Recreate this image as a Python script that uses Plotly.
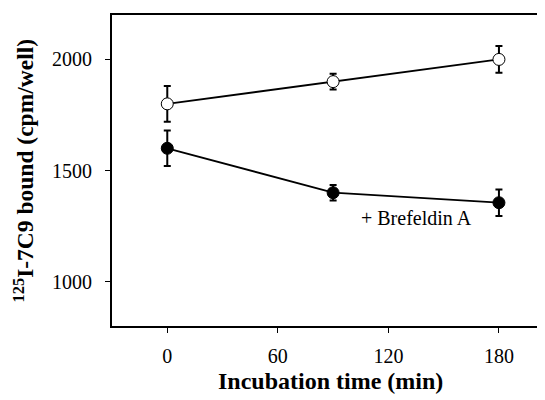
import plotly.graph_objects as go

time_min = [0, 90, 180]
control_vals = [1800, 1900, 2000]
control_err = [80, 35, 60]
bfa_vals = [1600, 1400, 1355]
bfa_err = [80, 35, 60]
x_ticks = [0, 60, 120, 180]
y_ticks = [1000, 1500, 2000]

FONT = "Liberation Serif, Times New Roman, serif"

fig = go.Figure()
fig.add_trace(go.Scatter(
    x=time_min, y=control_vals, mode="lines+markers",
    line=dict(color="black", width=1.8),
    marker=dict(symbol="circle", size=12, color="white", line=dict(color="black", width=1)),
    error_y=dict(type="data", array=control_err, color="black", thickness=2, width=3.5),
    showlegend=False))
fig.add_trace(go.Scatter(
    x=time_min, y=bfa_vals, mode="lines+markers",
    line=dict(color="black", width=1.8),
    marker=dict(symbol="circle", size=12, color="black", line=dict(color="black", width=1)),
    error_y=dict(type="data", array=bfa_err, color="black", thickness=2, width=3.5),
    showlegend=False))

fig.add_annotation(x=104, y=1288, xref="x", yref="y", text="+ Brefeldin A",
                   showarrow=False, xanchor="left", yanchor="middle",
                   font=dict(family=FONT, size=20, color="black"))
fig.add_annotation(x=-0.2055, y=0.5, xref="paper", yref="paper",
                   text="<sup>125</sup>I-7C9 bound (cpm/well)", textangle=-90,
                   showarrow=False, xanchor="center", yanchor="middle",
                   font=dict(family=FONT, size=23.5, color="black", weight="bold"))
fig.add_annotation(x=0.505, y=-0.177, xref="paper", yref="paper",
                   text="Incubation time (min)",
                   showarrow=False, xanchor="center", yanchor="middle",
                   font=dict(family=FONT, size=24, color="black", weight="bold"))

fig.update_layout(
    width=537, height=392,
    margin=dict(l=104, r=0, t=7, b=74),
    paper_bgcolor="white", plot_bgcolor="white",
    font=dict(family=FONT, size=20, color="black"),
    xaxis=dict(range=[-30, 205], tickvals=x_ticks, ticks="outside", ticklen=5,
               tickwidth=1, tickcolor="black", showline=True, linecolor="black",
               linewidth=2, mirror=True, showgrid=False, zeroline=False,
               ticklabelstandoff=6),
    yaxis=dict(range=[800, 2200], tickvals=y_ticks, ticks="outside", ticklen=5,
               tickwidth=1, tickcolor="black", showline=True, linecolor="black",
               linewidth=2, mirror=False, showgrid=False, zeroline=False,
               ticklabelstandoff=9),
)

fig.write_html("out.html")
